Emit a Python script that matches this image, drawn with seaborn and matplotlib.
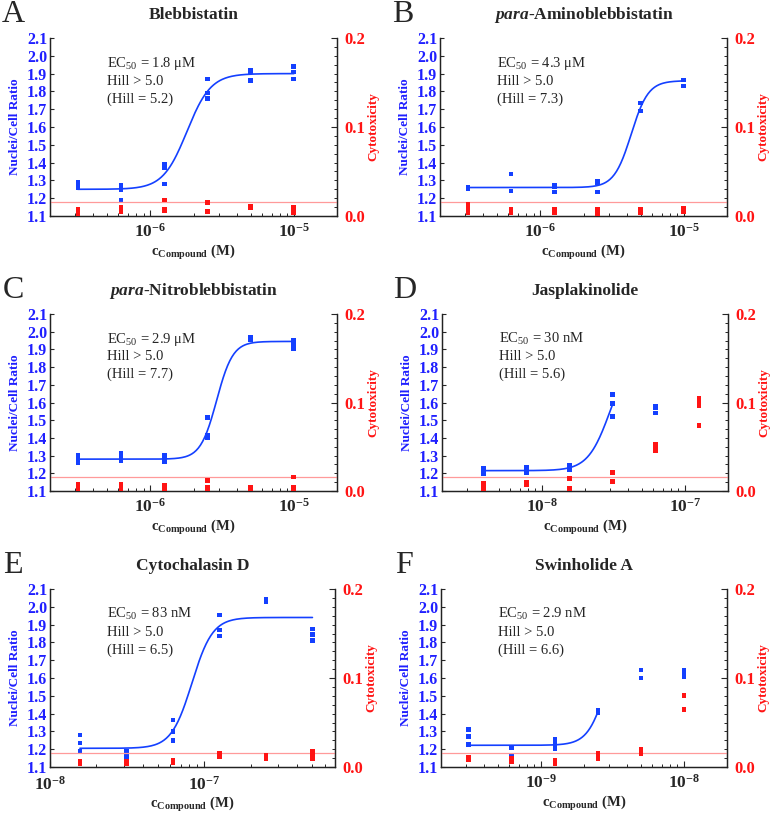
import numpy as np
import pandas as pd
import matplotlib
matplotlib.use("Agg")
import matplotlib.pyplot as plt
import seaborn as sns
from matplotlib.ticker import LogLocator, FuncFormatter, MultipleLocator, NullFormatter

# Style
sns.set_theme(style="ticks")
plt.rcParams["font.family"] = ["Liberation Serif", "DejaVu Serif"]
plt.rcParams["mathtext.fontset"] = "custom"
plt.rcParams["mathtext.rm"] = "Liberation Serif"
plt.rcParams["mathtext.bf"] = "Liberation Serif:bold"
plt.rcParams["mathtext.it"] = "Liberation Serif:bold:italic"

BLUE = "#1440ff"
BLUE_TXT = "#1f1fff"
RED = "#ff1414"
PINK = "#ff9a9a"

# ---- data ----
names = ["Blebbistatin", r"$\mathit{para}$-Aminoblebbistatin", r"$\mathit{para}$-Nitroblebbistatin",
         "Jasplakinolide", "Cytochalasin D", "Swinholide A"]
letters = ["A", "B", "C", "D", "E", "F"]

conc_A = [3.125e-7, 6.25e-7, 1.25e-6, 2.5e-6, 5e-6, 1e-5]
ratio_A = [[1.29, 1.28, 1.26], [1.27, 1.25, 1.19], [1.39, 1.37, 1.28],
           [1.87, 1.79, 1.76], [1.92, 1.91, 1.86], [1.94, 1.91, 1.87]]
cyto_A = [[0.008, 0.005, 0.003], [0.010, 0.007, 0.005], [0.018, 0.008, 0.006],
          [0.015, 0.005], [0.011, 0.009], [0.010, 0.007, 0.004]]

conc_B = [3.125e-7, 6.25e-7, 1.25e-6, 2.5e-6, 5e-6, 1e-5]
ratio_B = [[1.26, 1.255], [1.335, 1.24], [1.275, 1.265, 1.235],
           [1.295, 1.285, 1.235], [1.735, 1.69], [1.865, 1.83]]
cyto_B = [[0.013, 0.007, 0.004], [0.008, 0.006, 0.004], [0.007, 0.005, 0.004],
          [0.008, 0.005, 0.003], [0.008, 0.006, 0.004], [0.009, 0.007, 0.005]]

conc_C = [3.125e-7, 6.25e-7, 1.25e-6, 2.5e-6, 5e-6, 1e-5]
ratio_C = [[1.30, 1.29, 1.26], [1.315, 1.295, 1.27], [1.30, 1.28, 1.265],
           [1.515, 1.415, 1.40], [1.97, 1.955], [1.95, 1.925, 1.905]]
cyto_C = [[0.0075, 0.0045, 0.0025], [0.008, 0.005, 0.0025], [0.006, 0.004, 0.002],
          [0.012, 0.0045, 0.0025], [0.0045, 0.0025], [0.016, 0.004, 0.002]]

conc_D = [3.9e-9, 7.8e-9, 1.56e-8, 3.125e-8, 6.25e-8, 1.25e-7]
ratio_D = [[1.23, 1.215, 1.195], [1.235, 1.215, 1.205], [1.245, 1.235, 1.22],
           [1.645, 1.595, 1.52], [1.58, 1.57, 1.54], [1.61, 1.60]]
cyto_D = [[0.009, 0.006, 0.004, 0.0015], [0.010, 0.0075], [0.014, 0.0025],
          [0.021, 0.011], [0.0525, 0.0495, 0.045], [0.105, 0.1015, 0.0965, 0.074]]

conc_E = [1.5625e-8, 3.125e-8, 6.25e-8, 1.25e-7, 2.5e-7, 5e-7]
ratio_E = [[1.28, 1.235, 1.19], [1.19, 1.175, 1.16], [1.365, 1.30, 1.25],
           [1.955, 1.87, 1.835], [2.04, 2.03], [1.875, 1.845, 1.81]]
cyto_E = [[0.0065, 0.004], [0.0065, 0.004], [0.0075, 0.005],
          [0.015, 0.012], [0.013, 0.0095], [0.0175, 0.015, 0.012, 0.0095]]

conc_F = [3.125e-10, 6.25e-10, 1.25e-9, 2.5e-9, 5e-9, 1e-8]
ratio_F = [[1.31, 1.27, 1.225], [1.21, 1.165], [1.255, 1.225, 1.205],
           [1.42, 1.405], [1.645, 1.60], [1.645, 1.625, 1.61]]
cyto_F = [[0.0105, 0.008], [0.0095, 0.0075, 0.0055], [0.008, 0.0055, 0.004],
          [0.015, 0.012, 0.0095], [0.0195, 0.017, 0.015], [0.08, 0.0645]]

# Hill fit parameters (EC50 / Hill from annotations, plateaus)
fit_bottom = [1.25, 1.26, 1.28, 1.215, 1.205, 1.222]
fit_top = [1.90, 1.86, 1.945, 1.89, 1.94, 1.91]
fit_ec50 = [1.8e-6, 4.3e-6, 2.9e-6, 3.0e-8, 8.3e-8, 2.9e-9]
fit_hill = [5.2, 7.3, 7.7, 5.6, 6.5, 6.6]
fit_last = [5, 5, 5, 3, 5, 3]  # index of last concentration the curve covers

ec50_text = ["1.8 \u03bcM", "4.3 \u03bcM", "2.9 \u03bcM", "30 nM", "83 nM", "2.9 nM"]
hill_text = ["5.2", "7.3", "7.7", "5.6", "6.5", "6.6"]

xlims = [(2e-7, 2e-5), (2e-7, 2e-5), (2e-7, 2e-5), (2e-9, 2e-7), (1e-8, 7e-7), (2e-10, 2e-8)]
tox_threshold = 0.0155

concs = [conc_A, conc_B, conc_C, conc_D, conc_E, conc_F]
ratios = [ratio_A, ratio_B, ratio_C, ratio_D, ratio_E, ratio_F]
cytos = [cyto_A, cyto_B, cyto_C, cyto_D, cyto_E, cyto_F]

# axes boxes in pixels: left, top, right, bottom
W, H = 771, 813
boxes = [(50, 38, 337, 216), (440, 38, 727, 216),
         (50, 314, 337, 491), (442, 314, 728, 491),
         (50, 589, 335, 767), (441, 589, 727, 767)]
# panel E has a decade tick right at the left edge, so its labels sit a bit lower
xtick_pad = [5, 5, 5, 5, 6, 5]
xlabel_off = [36, 36, 36, 36, 37, 36]


def long_df(conc, vals):
    rows = [(c, v) for c, vs in zip(conc, vals) for v in vs]
    return pd.DataFrame(rows, columns=["conc", "value"])


fig = plt.figure(figsize=(W / 100, H / 100), dpi=100)

for i in range(6):
    l, t, r, b = boxes[i]
    ax = fig.add_axes([l / W, 1 - b / H, (r - l) / W, (b - t) / H])
    ax2 = ax.twinx()

    df_r = long_df(concs[i], ratios[i])
    df_c = long_df(concs[i], cytos[i])

    # fitted Hill curve
    xc = np.logspace(np.log10(concs[i][0]), np.log10(concs[i][fit_last[i]]), 200)
    yc = fit_bottom[i] + (fit_top[i] - fit_bottom[i]) / (1 + (fit_ec50[i] / xc) ** fit_hill[i])
    sns.lineplot(x=xc, y=yc, ax=ax, color=BLUE, lw=1.2)
    sns.scatterplot(data=df_r, x="conc", y="value", ax=ax, marker="s", s=11,
                    color=BLUE, edgecolor="none", linewidth=0, zorder=3)

    ax2.axhline(tox_threshold, color=PINK, lw=0.9)
    sns.scatterplot(data=df_c, x="conc", y="value", ax=ax2, marker="s", s=11,
                    color=RED, edgecolor="none", linewidth=0, zorder=3)

    ax.set_xscale("log")
    ax.set_xlim(*xlims[i])
    ax.set_ylim(1.1, 2.1)
    ax2.set_ylim(0, 0.2)

    ax.set_yticks(np.round(np.arange(1.1, 2.11, 0.1), 1))
    ax.yaxis.set_major_formatter(FuncFormatter(lambda v, _: "%.1f" % v))
    ax.xaxis.set_major_locator(LogLocator(base=10, numticks=10))
    ax.xaxis.set_minor_locator(LogLocator(base=10, subs=np.arange(2, 10), numticks=20))
    ax.xaxis.set_minor_formatter(NullFormatter())
    ax.xaxis.set_major_formatter(FuncFormatter(lambda v, _: r"$\mathbf{10^{%d}}$" % round(np.log10(v))))
    ax2.set_yticks([0.0, 0.1, 0.2])
    ax2.yaxis.set_major_formatter(FuncFormatter(lambda v, _: "%.1f" % v))
    ax2.yaxis.set_minor_locator(MultipleLocator(0.01))

    ax.tick_params(axis="y", which="major", direction="in", length=3, width=0.8,
                   labelcolor=BLUE_TXT, labelsize=11.5, pad=2)
    ax.tick_params(axis="x", which="major", direction="in", length=4, width=0.8,
                   labelsize=12.5, pad=xtick_pad[i])
    ax.tick_params(axis="x", which="minor", direction="in", length=2, width=0.7)
    ax2.tick_params(axis="y", which="major", direction="in", length=4, width=0.8,
                    labelcolor=RED, labelsize=12, pad=5)
    ax2.tick_params(axis="y", which="minor", direction="in", length=2, width=0.7)
    for lab in ax.get_yticklabels() + ax2.get_yticklabels():
        lab.set_fontweight("bold")

    for a in (ax, ax2):
        a.spines["top"].set_visible(False)
        for s in a.spines.values():
            s.set_linewidth(0.9)
            s.set_color("#222222")

    ax.set_xlabel(r"$\mathbf{c_{Compound}}$ (M)", fontsize=10.5, fontweight="bold", va="center")
    ax.set_ylabel("Nuclei/Cell Ratio", fontsize=9.5, fontweight="bold", color=BLUE_TXT,
                  va="center", ha="center")
    ax2.set_ylabel("Cytotoxicity", fontsize=9.5, fontweight="bold", color=RED,
                   rotation=90, va="center", ha="center")
    hpx = b - t
    wpx = r - l
    ax.xaxis.set_label_coords(0.5, -xlabel_off[i] / hpx)
    ax.yaxis.set_label_coords(-35 / wpx, 0.5)
    ax2.yaxis.set_label_coords(1 + 36 / wpx, 0.5)

    ax.text(0.5, 1 + 23 / hpx, names[i], transform=ax.transAxes, ha="center", va="center",
            fontsize=12.5, fontweight="bold")
    ax.text(0.2, 0.858, r"EC$_{\mathrm{50}}$ = " + ec50_text[i], transform=ax.transAxes,
            ha="left", va="center", fontsize=10.5)
    ax.text(0.2, 0.758, "Hill > 5.0", transform=ax.transAxes, ha="left", va="center", fontsize=10.5)
    ax.text(0.2, 0.657, "(Hill = %s)" % hill_text[i], transform=ax.transAxes,
            ha="left", va="center", fontsize=10.5)

    fig.text((l - 37) / W, 1 - (t - 16) / H, letters[i], ha="center", va="baseline", fontsize=23)

fig.savefig("out.png", dpi=100, facecolor="white")
